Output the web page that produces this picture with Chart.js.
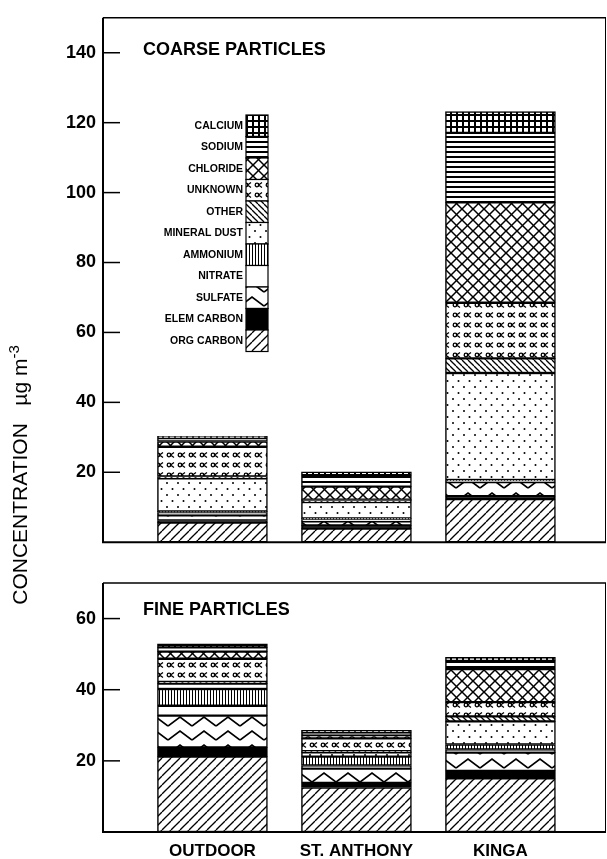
<!DOCTYPE html>
<html>
<head>
<meta charset="utf-8">
<script src="https://cdn.jsdelivr.net/npm/chart.js@4"></script>
<style>
body{margin:0;background:#fff;}
#wrap{position:relative;width:607px;height:859px;overflow:hidden;}
#coarse{position:absolute;left:0;top:0;}
#fine{position:absolute;left:0;top:560px;}
#ytitle{position:absolute;left:-130px;top:463px;width:300px;height:24px;line-height:24px;text-align:center;
transform:rotate(-90deg);font:21px "Liberation Sans",Arial,sans-serif;white-space:nowrap;color:#000;}
#ytitle sup{font-size:15px;line-height:0;}
</style>
</head>
<body>
<div id="wrap">
<canvas id="coarse" width="607" height="560"></canvas>
<canvas id="fine" width="607" height="299"></canvas>
<div id="ytitle">CONCENTRATION&nbsp;&nbsp;&nbsp;µg m<sup>-3</sup></div>
</div>
<script>
const categories = ["OUTDOOR", "ST. ANTHONY", "KINGA"];
const components = ["ORG CARBON", "ELEM CARBON", "SULFATE", "NITRATE", "AMMONIUM",
  "MINERAL DUST", "OTHER", "UNKNOWN", "CHLORIDE", "SODIUM", "CALCIUM"];

// values in components order, ug/m3
const coarseOutdoor   = [5.6, 0.6, 1.5, 0.8, 0.3, 9.5, 0.5, 8.5, 1.5, 1.0, 0.5];
const coarseStAnthony = [3.9, 0.9, 1.2, 0.5, 0.3, 4.7, 0.4, 0.3, 3.7, 3.3, 0.9];
const coarseKinga     = [12.3, 0.9, 4.0, 0.3, 0.3, 30.6, 4.2, 15.9, 28.7, 19.9, 6.1];

const fineOutdoor   = [21.2, 2.6, 8.9, 2.8, 4.7, 1.5, 0.5, 6.5, 2.0, 1.2, 1.0];
const fineStAnthony = [12.5, 1.3, 4.0, 0.9, 2.5, 1.2, 0.3, 3.6, 0.9, 0.7, 0.7];
const fineKinga     = [15.1, 2.1, 5.1, 0.9, 1.4, 6.5, 1.4, 4.0, 9.3, 2.3, 1.0];

const FONT = "'Liberation Sans', Arial, Helvetica, sans-serif";

// hatch fills
function makePattern(w, h, draw){
  const c = document.createElement("canvas");
  c.width = w; c.height = h;
  const g = c.getContext("2d");
  g.fillStyle = "#fff"; g.fillRect(0, 0, w, h);
  g.strokeStyle = "#000"; g.fillStyle = "#000";
  draw(g, w, h);
  return g.createPattern(c, "repeat");
}

const patterns = [
  // org carbon: / lines
  makePattern(9, 9, (g, w, h) => {
    g.lineWidth = 1.3;
    for(let k=-1;k<=1;k++){ g.beginPath(); g.moveTo(k*w, h); g.lineTo(k*w+w, 0); g.stroke(); }
  }),
  // elem carbon
  "#000",
  // sulfate: chevrons
  makePattern(24, 14, (g) => {
    g.lineWidth = 1.6;
    g.beginPath(); g.moveTo(0, 12); g.lineTo(12, 3); g.lineTo(24, 12); g.stroke();
  }),
  // nitrate
  "#fff",
  // ammonium: vertical lines
  makePattern(3, 2, (g) => { g.fillRect(0, 0, 1, 2); }),
  // mineral dust: dots
  makePattern(11, 12, (g) => {
    g.beginPath(); g.arc(2, 3, 1, 0, Math.PI*2); g.fill();
    g.beginPath(); g.arc(7.5, 9, 1, 0, Math.PI*2); g.fill();
  }),
  // other: \ lines
  makePattern(6, 6, (g, w, h) => {
    g.lineWidth = 1.3;
    for(let k=-1;k<=1;k++){ g.beginPath(); g.moveTo(k*w, 0); g.lineTo(k*w+w, h); g.stroke(); }
  }),
  // unknown: little symbols
  makePattern(11, 10, (g) => {
    g.lineWidth = 1.3;
    g.beginPath(); g.arc(4, 5, 1.8, 0, Math.PI*2); g.stroke();
    g.beginPath(); g.moveTo(9, 2.5); g.lineTo(5.5, 5); g.lineTo(9, 7.5); g.stroke();
  }),
  // chloride: crosshatch
  makePattern(11, 11, (g, w, h) => {
    g.lineWidth = 1.5;
    for(let k=-1;k<=1;k++){
      g.beginPath(); g.moveTo(k*w, h); g.lineTo(k*w+w, 0); g.stroke();
      g.beginPath(); g.moveTo(k*w, 0); g.lineTo(k*w+w, h); g.stroke();
    }
  }),
  // sodium: horizontal lines
  makePattern(2, 5, (g) => { g.fillRect(0, 1, 2, 2); }),
  // calcium: grid
  makePattern(6, 6, (g) => { g.fillRect(0, 0, 6, 2); g.fillRect(0, 0, 2, 6); })
];

const frame = {
  id: "frame",
  afterDraw(chart, args, opts){
    const {ctx, chartArea: a, scales} = chart;
    ctx.save();
    ctx.strokeStyle = "#000";
    ctx.lineWidth = 2;
    ctx.beginPath();
    ctx.moveTo(a.left, a.top); ctx.lineTo(a.left, a.bottom); ctx.lineTo(a.right, a.bottom);
    ctx.stroke();
    ctx.lineWidth = 1.5;
    ctx.beginPath(); ctx.moveTo(a.left, a.top); ctx.lineTo(a.right, a.top); ctx.stroke();
    ctx.lineWidth = 1;
    ctx.beginPath(); ctx.moveTo(a.right - 0.5, a.top); ctx.lineTo(a.right - 0.5, a.bottom); ctx.stroke();
    // ticks point inward
    ctx.lineWidth = 1.5;
    scales.y.ticks.forEach(t => {
      const py = scales.y.getPixelForValue(t.value);
      ctx.beginPath(); ctx.moveTo(a.left, py); ctx.lineTo(a.left + 17, py); ctx.stroke();
    });
    ctx.font = "bold 18px " + FONT;
    ctx.fillStyle = "#000";
    ctx.textAlign = "left"; ctx.textBaseline = "middle";
    ctx.fillText(opts.text, a.left + 40, a.top + opts.dy);
    ctx.restore();
  }
};

const legendColumn = {
  id: "legendColumn",
  afterDatasetsDraw(chart, args, opts){
    if(!opts.show) return;
    const ctx = chart.ctx;
    const sets = chart.data.datasets.slice().reverse();
    let y = opts.y;
    ctx.save();
    ctx.font = "bold 10.5px " + FONT;
    ctx.textAlign = "right"; ctx.textBaseline = "middle";
    sets.forEach(ds => {
      ctx.fillStyle = ds.backgroundColor;
      ctx.fillRect(opts.x, y, opts.w, opts.h);
      ctx.strokeStyle = "#000"; ctx.lineWidth = 1.2;
      ctx.strokeRect(opts.x, y, opts.w, opts.h);
      ctx.fillStyle = "#000";
      ctx.fillText(ds.label, opts.x - 3, y + opts.h / 2);
      y += opts.h;
    });
    ctx.restore();
  }
};

function makeChart(id, sites, yMax, title, titleDy, padTop, padBottom, xHeight, showLegend){
  return new Chart(document.getElementById(id), {
    type: "bar",
    data: {
      datasets: components.map((name, j) => ({
        label: name,
        data: categories.map((c, i) => ({x: i, y: sites[i][j]})),
        backgroundColor: patterns[j],
        borderColor: "#000",
        borderWidth: 1.5,
        borderSkipped: false,
        barThickness: 110
      }))
    },
    options: {
      responsive: false,
      animation: false,
      layout: {padding: {left: 0, right: 1, top: padTop, bottom: padBottom}},
      plugins: {
        legend: {display: false},
        tooltip: {enabled: false},
        frame: {text: title, dy: titleDy},
        legendColumn: {show: showLegend, x: 246, y: 115, w: 22, h: 21.5}
      },
      scales: {
        x: {
          type: "linear", stacked: true, offset: false, min: -0.76, max: 2.733,
          display: xHeight > 0,
          grid: {display: false, drawTicks: false}, border: {display: false},
          afterBuildTicks: s => { s.ticks = categories.map((c, i) => ({value: i})); },
          afterFit: s => { s.height = xHeight; },
          ticks: {
            autoSkip: false, maxRotation: 0, padding: 9, color: "#000",
            font: {family: FONT, size: 17, weight: "bold"},
            callback: v => categories[v]
          }
        },
        y: {
          stacked: true, min: 0, max: yMax,
          grid: {display: false, drawTicks: false}, border: {display: false},
          afterBuildTicks: s => { s.ticks = s.ticks.filter(t => t.value > 0 && t.value % 20 === 0); },
          afterFit: s => { s.width = 103; },
          ticks: {
            stepSize: 20, padding: 7, color: "#000",
            font: {family: FONT, size: 18, weight: "bold"}
          }
        }
      }
    },
    plugins: [frame, legendColumn]
  });
}

makeChart("coarse", [coarseOutdoor, coarseStAnthony, coarseKinga], 150, "COARSE PARTICLES", 32, 12, 13, 0, true);
makeChart("fine", [fineOutdoor, fineStAnthony, fineKinga], 70, "FINE PARTICLES", 27, 23, 0, 27, false);
</script>
</body>
</html>
